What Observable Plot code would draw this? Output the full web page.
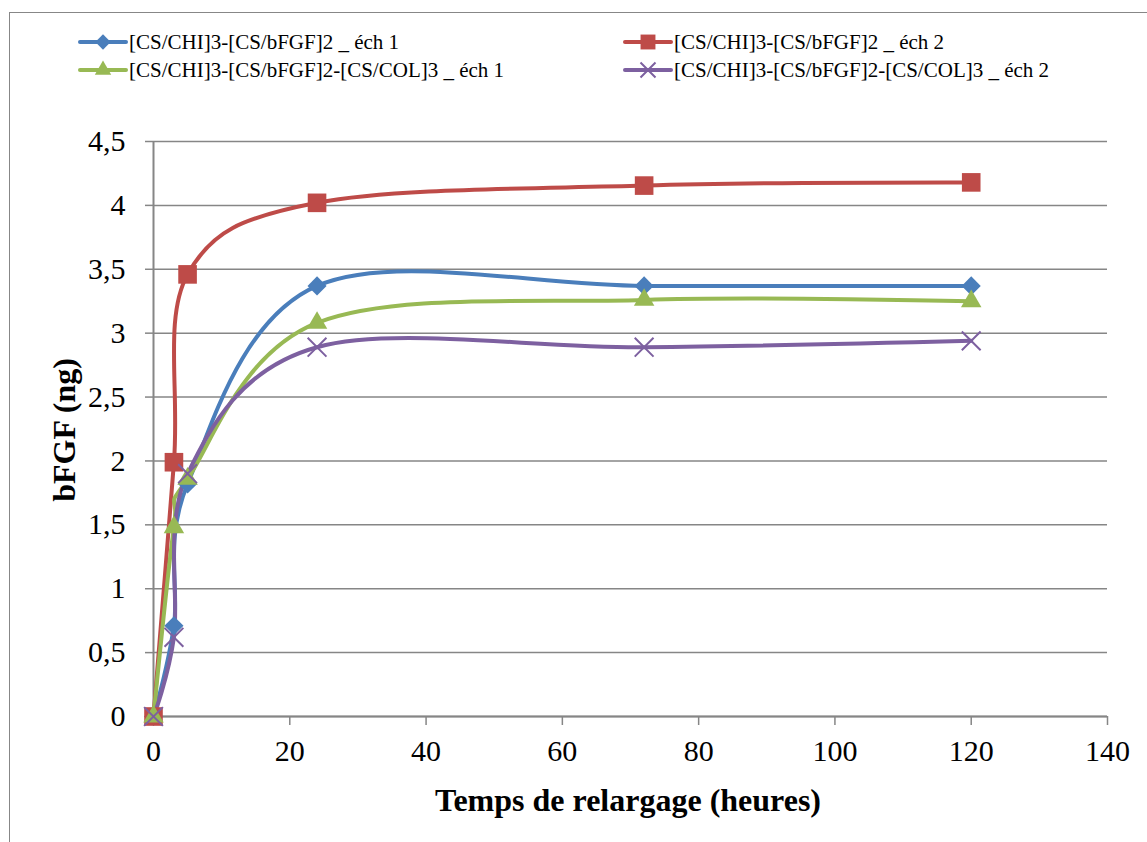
<!DOCTYPE html>
<html><head><meta charset="utf-8">
<script src="https://cdn.jsdelivr.net/npm/d3@7"></script>
<script src="https://cdn.jsdelivr.net/npm/@observablehq/plot@0.6"></script>
<style>
body{margin:0;background:#fff;font-family:"Liberation Serif","Times New Roman",serif;color:#000}
#wrap{position:relative;width:1147px;height:842px;overflow:hidden}
#frame{position:absolute;left:9px;top:12px;width:1150px;height:845px;border:1.5px solid #878787;box-sizing:border-box}
#chart{position:absolute;left:0;top:0}
.leg{position:absolute;display:flex;align-items:center;font-size:21px;white-space:nowrap;line-height:1}
.leg svg{margin-right:1px}
.ytitle{position:absolute;left:64px;top:430px;transform:translate(-50%,-50%) rotate(-90deg);font-weight:bold;font-size:32px;white-space:nowrap}
.xtitle{position:absolute;left:628px;top:800px;transform:translate(-50%,-50%);font-weight:bold;font-size:32px;white-space:nowrap}
</style></head>
<body>
<div id="wrap">
  <div id="frame"></div>
  <div id="chart"></div>
  <div id="legend"></div>
  <div class="ytitle">bFGF (ng)</div>
  <div class="xtitle">Temps de relargage (heures)</div>
</div>
<script>
const hours = [0, 3, 5, 24, 72, 120];
const seriesNames = [
  "[CS/CHI]3-[CS/bFGF]2 _ éch 1",
  "[CS/CHI]3-[CS/bFGF]2 _ éch 2",
  "[CS/CHI]3-[CS/bFGF]2-[CS/COL]3 _ éch 1",
  "[CS/CHI]3-[CS/bFGF]2-[CS/COL]3 _ éch 2"
];
const ech1 = [0, 0.71, 1.82, 3.37, 3.37, 3.37];
const ech2 = [0, 1.99, 3.46, 4.02, 4.155, 4.18];
const col1 = [0, 1.48, 1.86, 3.08, 3.26, 3.25];
const col2 = [0, 0.62, 1.90, 2.89, 2.89, 2.94];
const xTicks = [0, 20, 40, 60, 80, 100, 120, 140];
const yTicks = [0, 0.5, 1, 1.5, 2, 2.5, 3, 3.5, 4, 4.5];

const colors = ["#4A7EBB", "#BE4B48", "#98B954", "#7D60A0"];
const symbols = ["diamond2", "square", "triangle", "times"];
const radii = [8.6, 10.5, 7.6, 8.6];
const values = [ech1, ech2, col1, col2];

const rows = [];
values.forEach((s, i) => hours.forEach((h, j) => rows.push({serie: seriesNames[i], h, v: s[j], i})));

const fmt = d => String(d).replace(".", ",");
const grey = "#868686";

const marks = [
  Plot.gridY(yTicks, {stroke: grey, strokeOpacity: 1, strokeWidth: 1.5}),
  Plot.axisY({ticks: yTicks, tickSize: 8, tickPadding: 20, tickFormat: fmt, stroke: grey, strokeOpacity: 1, strokeWidth: 1.5, label: null, fontSize: 30, fill: "#000"}),
  Plot.axisX({ticks: xTicks, tickSize: 9, tickPadding: 14, stroke: grey, strokeOpacity: 1, strokeWidth: 1.5, label: null, fontSize: 30, fill: "#000"}),
  Plot.ruleY([0], {stroke: grey, strokeWidth: 2}),
  Plot.ruleX([0], {stroke: grey, strokeWidth: 2})
];
seriesNames.forEach((name, i) => {
  const d = rows.filter(r => r.i === i);
  marks.push(Plot.line(d, {x: "h", y: "v", stroke: colors[i], strokeWidth: 4, curve: "cardinal", tension: 0}));
});
seriesNames.forEach((name, i) => {
  const d = rows.filter(r => r.i === i);
  if (symbols[i] === "times") {
    marks.push(Plot.dot(d, {x: "h", y: "v", symbol: "times", r: radii[i], stroke: colors[i], strokeWidth: 2, fill: "none"}));
  } else {
    marks.push(Plot.dot(d, {x: "h", y: "v", symbol: symbols[i], r: radii[i], fill: colors[i], stroke: "none"}));
  }
});

const chart = Plot.plot({
  width: 1147, height: 842,
  marginLeft: 153, marginRight: 40, marginTop: 141, marginBottom: 126,
  style: {fontFamily: "'Liberation Serif', 'Times New Roman', serif", fontSize: "30px", background: "transparent", color: "#000"},
  x: {domain: [0, 140], label: null},
  y: {domain: [0, 4.5], label: null},
  marks
});
document.getElementById("chart").appendChild(chart);

// legend
const legPos = [[78, 42], [623, 42], [78, 70], [623, 70]];
const legend = document.getElementById("legend");
seriesNames.forEach((name, i) => {
  const div = document.createElement("div");
  div.className = "leg";
  div.style.left = legPos[i][0] + "px";
  div.style.top = (legPos[i][1] - 12) + "px";
  const sw = d3.create("svg").attr("width", 50).attr("height", 24);
  sw.append("line").attr("x1", 2).attr("x2", 48).attr("y1", 12).attr("y2", 12)
    .attr("stroke", colors[i]).attr("stroke-width", 4).attr("stroke-linecap", "round");
  const symMap = {diamond2: d3.symbolDiamond2, square: d3.symbolSquare, triangle: d3.symbolTriangle, times: d3.symbolTimes};
  const sz = Math.PI * (radii[i] * 0.8) ** 2;
  const p = sw.append("path").attr("transform", "translate(25,12)").attr("d", d3.symbol(symMap[symbols[i]], sz)());
  if (symbols[i] === "times") p.attr("stroke", colors[i]).attr("stroke-width", 2).attr("fill", "none");
  else p.attr("fill", colors[i]);
  div.appendChild(sw.node());
  const t = document.createElement("span");
  t.textContent = name;
  div.appendChild(t);
  legend.appendChild(div);
});
</script>
</body></html>
